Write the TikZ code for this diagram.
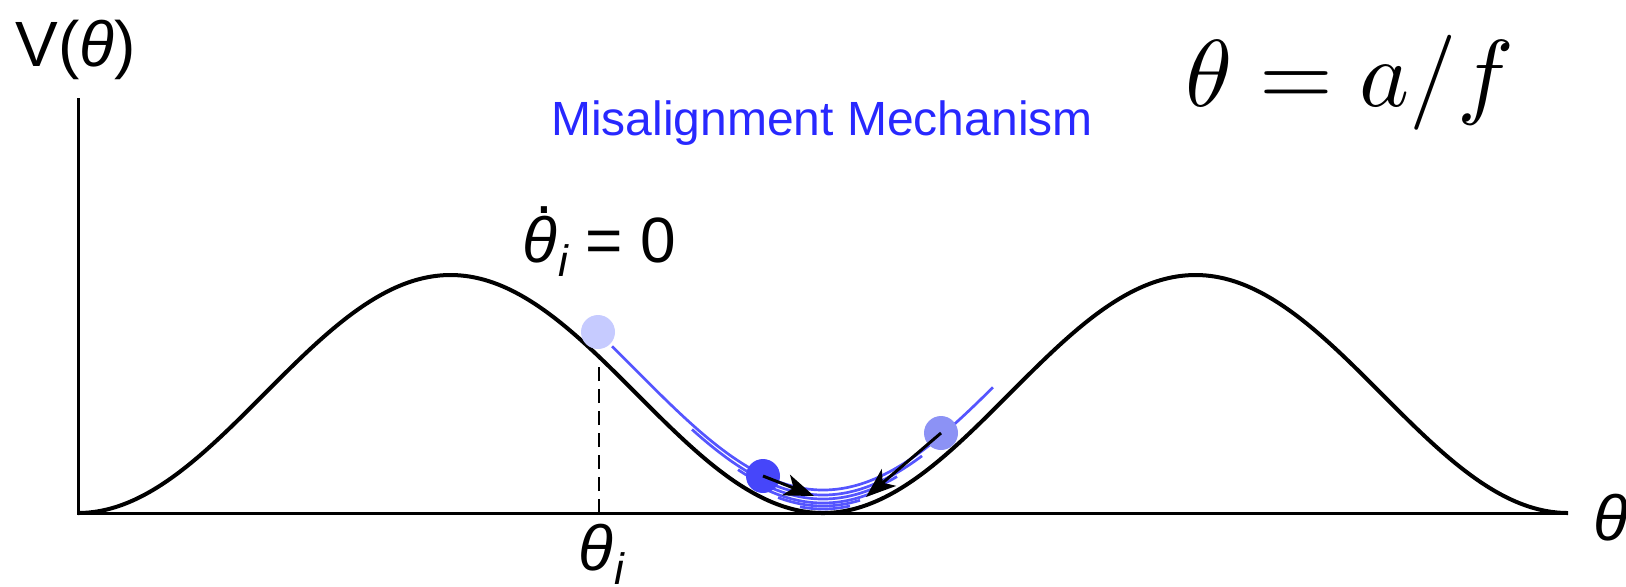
\documentclass[tikz,border=0pt]{standalone}
\usepackage{fontspec}
\setmainfont{Liberation Sans}
\usetikzlibrary{arrows.meta}
\definecolor{ballA}{RGB}{198,203,255}
\definecolor{ballB}{RGB}{140,146,245}
\definecolor{ballC}{RGB}{70,70,250}
\definecolor{trajblue}{RGB}{85,85,255}
\definecolor{textblue}{RGB}{40,40,255}
\begin{document}
\begin{tikzpicture}[x=0.5pt,y=-0.5pt,
  axisline/.style={line width=1.5pt,black},
  potential/.style={line width=2pt,black},
  traj/.style={line width=1.35pt,trajblue},
  ball/.style={circle,inner sep=0pt,minimum size=17pt,draw=none},
  push/.style={line width=1.5pt,black,-{Stealth[length=15pt,width=11pt,inset=4pt]}},
  lbl/.style={inner sep=0pt,font=\fontsize{32}{38}\selectfont},
]
\useasboundingbox (0,0) rectangle (1626,586);
% axes
\coordinate (O) at (78,513);
\coordinate (Ytop) at (78,98);
\coordinate (Xend) at (1568,513);
\draw[axisline] (Ytop) -- (O) -- (Xend);
% dashed marker
\coordinate (thi) at (599,513);
\coordinate (thc) at (599,356.5);
\draw[line width=1pt,dash pattern=on 7pt off 4pt] (thi) -- (thc);
% potential
\draw[potential] plot[domain=78:1568,samples=400,smooth] (\x,{513-119*(1-cos(0.483221*(\x-78)))});
% trajectory
\foreach \off/\a/\b in {23/612/993, 18/692/922, 14/738/897, 10/760/880, 7/778/860, 4/800/850}
  \draw[traj] plot[domain=\a:\b,samples=80,smooth] (\x,{513-119*(1-cos(0.483221*(\x-78)))-\off});
% balls
\node[ball,fill=ballA] (b1) at (598,332) {};
\node[ball,fill=ballB] (b2) at (941,433) {};
\node[ball,fill=ballC] (b3) at (763,476) {};
% arrows
\coordinate (t1) at (814,496);
\coordinate (t2) at (866,497);
\draw[push] (b3.center) -- (t1);
\draw[push] (b2.center) -- (t2);
% labels
\node[lbl,anchor=base west] (V) at (15,66) {V(\textit{θ})};
\node[lbl,anchor=base,font=\fontsize{24}{28}\selectfont,text=textblue] (mis) at (822,135) {Misalignment Mechanism};
\node[lbl,anchor=base west] (thdot) at (522,262) {\makebox[0pt][l]{\hspace{0.2em}\raisebox{0.76em}{.}}\textit{θ\kern0.5pt\raisebox{-0.22em}{\fontsize{22}{24}\selectfont i}} = 0};
\node[lbl,anchor=base west] (thlab) at (578,570) {\textit{θ\kern0.5pt\raisebox{-0.22em}{\fontsize{22}{24}\selectfont i}}};
\node[lbl,anchor=base west] (thx) at (1593,540) {\textit{θ}};
\node[inner sep=0pt,anchor=base west,font=\normalsize] (def) at (1185,106) {\scalebox{4.75}{$\theta = a/f$}};
\end{tikzpicture}
\end{document}
